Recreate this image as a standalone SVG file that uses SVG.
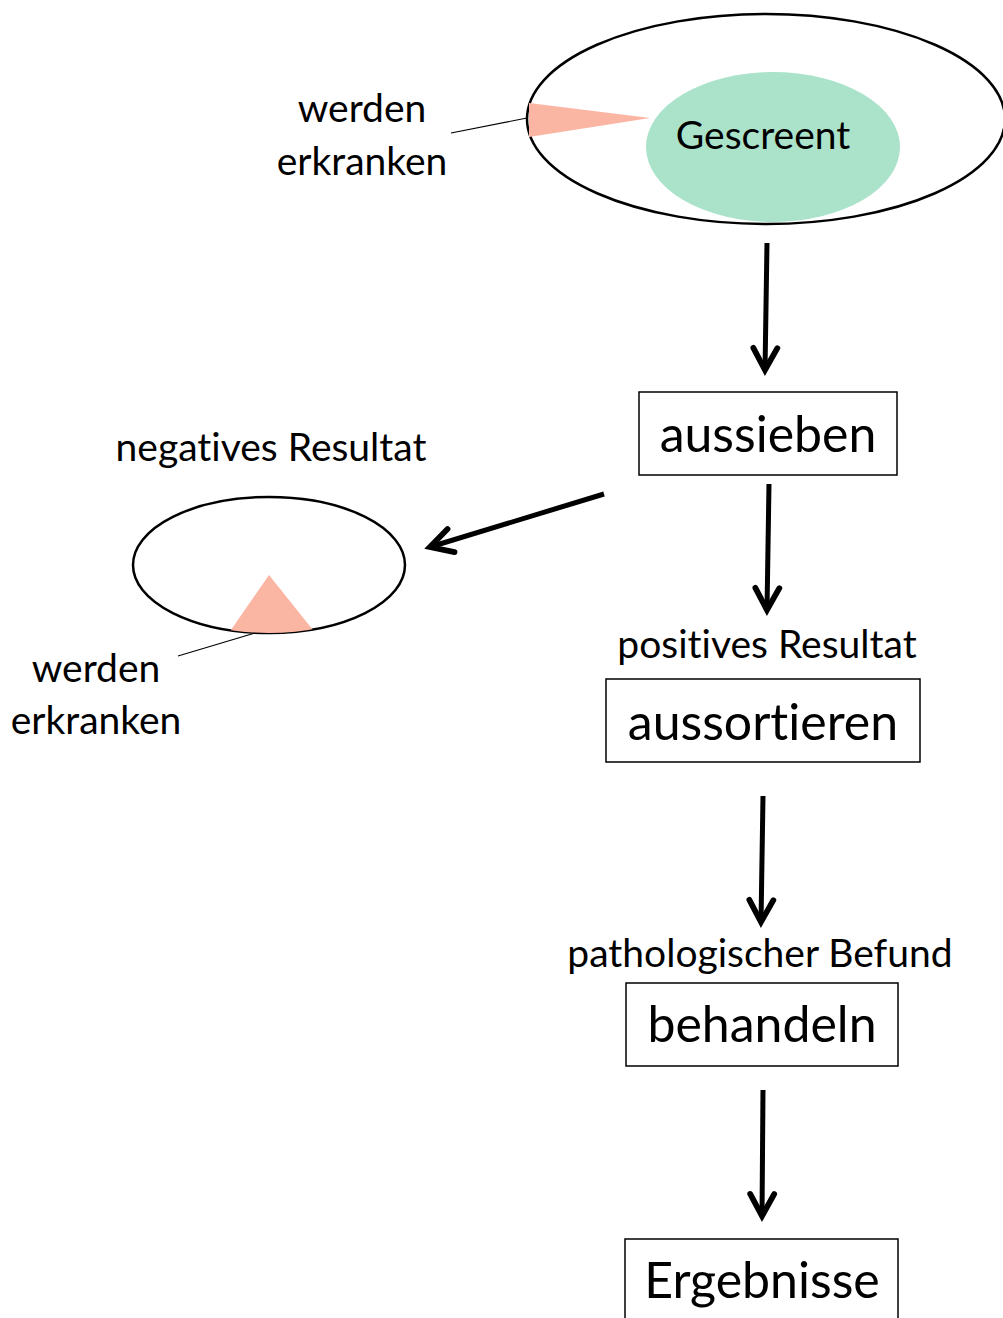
<svg xmlns="http://www.w3.org/2000/svg" width="1003" height="1318" viewBox="0 0 1003 1318">
  <style>
    text { font-family: Lato, "Open Sans", "Liberation Sans", sans-serif; fill: #000; text-anchor: middle; font-variant-ligatures: none; }
    .lbl { font-size: 39px; }
    .big { font-size: 50px; }
    .box { fill: #fff; stroke: #000; stroke-width: 1.5; }
    .ring { fill: #fff; stroke: #000; stroke-width: 2.5; }
    .lead { stroke: #000; stroke-width: 1.2; fill: none; }
    .flow { stroke: #000; stroke-width: 5; fill: none; marker-end: url(#chev); }
  </style>
  <defs>
    <marker id="chev" viewBox="-8 -6 10 12" refX="0" refY="0" markerWidth="10" markerHeight="12" markerUnits="strokeWidth" orient="auto">
      <path d="M -4.4 -2.4 L 0 0 L -4.4 2.4" fill="none" stroke="#000" stroke-width="1.15" stroke-linecap="round" stroke-linejoin="miter" stroke-miterlimit="6"/>
    </marker>
    <clipPath id="smallClip">
      <ellipse cx="269" cy="565" rx="136" ry="68"/>
    </clipPath>
  </defs>

  <!-- screened population -->
  <g id="screened">
    <ellipse class="ring" cx="766" cy="119" rx="239" ry="105"/>
    <ellipse cx="773" cy="147" rx="127" ry="75" fill="#ABE3CA"/>
    <polygon points="529,103 650,118 529,137" fill="#FBB5A3"/>
    <text class="lbl" x="763" y="149">Gescreent</text>
  </g>

  <g id="sick-top">
    <line class="lead" x1="451" y1="133" x2="527" y2="118"/>
    <text class="lbl" x="362" y="122">werden</text>
    <text class="lbl" x="362" y="175">erkranken</text>
  </g>

  <g id="aussieben">
    <rect class="box" x="639" y="392" width="258" height="83"/>
    <text class="big" x="768" y="452">aussieben</text>
  </g>

  <g id="negative">
    <text class="lbl" x="271" y="461">negatives Resultat</text>
    <ellipse class="ring" cx="269" cy="565" rx="136" ry="68"/>
    <polygon points="269,575 321,640 224,640" fill="#FBB5A3" clip-path="url(#smallClip)"/>
  </g>

  <g id="sick-bottom">
    <line class="lead" x1="178" y1="656" x2="255" y2="633"/>
    <text class="lbl" x="96" y="682">werden</text>
    <text class="lbl" x="96" y="734">erkranken</text>
  </g>

  <g id="aussortieren">
    <text class="lbl" x="767" y="658">positives Resultat</text>
    <rect class="box" x="606" y="679" width="314" height="83"/>
    <text class="big" x="763" y="740">aussortieren</text>
  </g>

  <g id="behandeln">
    <text class="lbl" x="760" y="967">pathologischer Befund</text>
    <rect class="box" x="626" y="983" width="272" height="83"/>
    <text class="big" x="762" y="1042">behandeln</text>
  </g>

  <g id="ergebnisse">
    <rect class="box" x="625" y="1239" width="273" height="100"/>
    <text class="big" x="762" y="1298">Ergebnisse</text>
  </g>

  <g id="connectors">
    <line class="flow" x1="767" y1="243" x2="765" y2="370"/>
    <line class="flow" x1="769" y1="484" x2="767" y2="610"/>
    <line class="flow" x1="604" y1="494" x2="430" y2="547"/>
    <line class="flow" x1="763" y1="796" x2="761" y2="922"/>
    <line class="flow" x1="763" y1="1090" x2="762" y2="1216"/>
  </g>
</svg>
